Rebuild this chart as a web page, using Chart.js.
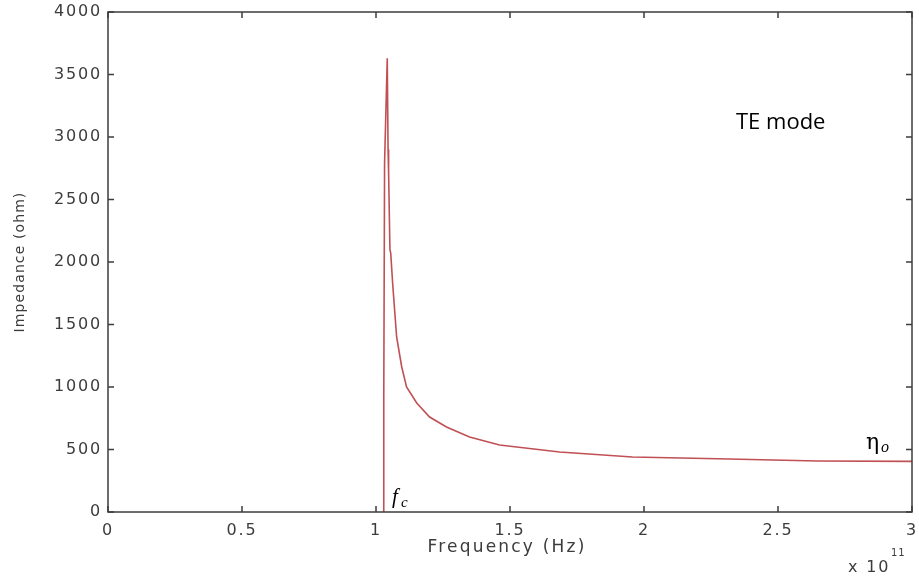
<!DOCTYPE html>
<html>
<head>
<meta charset="utf-8">
<script src="https://cdn.jsdelivr.net/npm/chart.js@4.4.0/dist/chart.umd.min.js"></script>
<style>
  html, body { margin: 0; padding: 0; background: #fff; }
  #wrap { width: 919px; height: 581px; }
</style>
</head>
<body>
<div id="wrap"><canvas id="impChart" width="919" height="581"></canvas></div>
<script>
// frequency in units of 1e11 Hz, impedance in ohm
let freq = [1.028, 1.029, 1.032, 1.042, 1.045, 1.047, 1.052, 1.055, 1.062, 1.077, 1.096, 1.114,
            1.152, 1.200, 1.263, 1.349, 1.461, 1.685, 1.957, 2.318, 2.646, 3.0];
let impedance = [0, 912, 2790, 3630, 2900, 2720, 2100, 2070, 1832, 1400, 1160, 1000,
                 872, 760, 680, 600, 536, 480, 440, 424, 408, 405];
let xTicks = [0, 0.5, 1, 1.5, 2, 2.5, 3];
let yTicks = [0, 500, 1000, 1500, 2000, 2500, 3000, 3500, 4000];

const axisColor = "#3c3c3c";
const tickFont = { family: "DejaVu Sans", size: 16 };

let points = freq.map((f, i) => ({ x: f, y: impedance[i] }));

// box + inward ticks + text labels, MATLAB style
const matlabFrame = {
  id: "matlabFrame",
  beforeDraw(chart) {
    const c = chart.ctx;
    c.fillStyle = "#fff";
    c.fillRect(0, 0, chart.width, chart.height);
    c.letterSpacing = "1.8px"; // matlab's wide axis font
  },
  afterDraw(chart) {
    const c = chart.ctx;
    const a = chart.chartArea;
    const xs = chart.scales.x, ys = chart.scales.y;
    c.save();
    c.strokeStyle = axisColor;
    c.lineWidth = 1.5;
    c.strokeRect(a.left, a.top, a.right - a.left, a.bottom - a.top);
    c.beginPath();
    xTicks.forEach(t => {
      const px = xs.getPixelForValue(t);
      c.moveTo(px, a.bottom); c.lineTo(px, a.bottom - 6);
      c.moveTo(px, a.top); c.lineTo(px, a.top + 6);
    });
    yTicks.forEach(t => {
      const py = ys.getPixelForValue(t);
      c.moveTo(a.left, py); c.lineTo(a.left + 6, py);
      c.moveTo(a.right, py); c.lineTo(a.right - 6, py);
    });
    c.stroke();

    // axis titles
    c.fillStyle = axisColor;
    c.textBaseline = "middle";
    c.textAlign = "center";
    c.letterSpacing = "2.2px";
    c.font = "17px DejaVu Sans";
    c.fillText("Frequency (Hz)", 507, 548);
    c.save();
    c.translate(20, 262);
    c.rotate(-Math.PI / 2);
    c.letterSpacing = "1.1px";
    c.font = "14px DejaVu Sans";
    c.fillText("Impedance (ohm)", 0, 0);
    c.restore();

    // exponent label
    c.textBaseline = "alphabetic";
    c.textAlign = "left";
    c.letterSpacing = "1.8px";
    c.font = "16px DejaVu Sans";
    c.fillText("x 10", 848, 572);
    c.letterSpacing = "1px";
    c.font = "10px DejaVu Sans";
    c.fillText("11", 891, 556);

    // annotations
    c.letterSpacing = "0px";
    c.fillStyle = "#000";
    c.font = "22px Open Sans, Noto Sans";
    c.fillText("TE mode", 736, 129);
    c.font = "italic 21px Liberation Serif, DejaVu Serif";
    c.fillText("f", 392, 503);
    c.font = "italic 15px Liberation Serif, DejaVu Serif";
    c.fillText("c", 401, 507);
    c.font = "22px DejaVu Serif, Liberation Serif";
    c.fillText("\u03b7", 866, 449);
    c.font = "italic 16px Liberation Serif, DejaVu Serif";
    c.fillText("o", 881, 452);
    c.restore();
  }
};

const ctx = document.getElementById("impChart").getContext("2d");
let chart = new Chart(ctx, {
  type: "line",
  data: {
    datasets: [{
      label: "Impedance",
      data: points,
      borderColor: "rgb(192, 80, 84)",
      borderWidth: 1.6,
      pointRadius: 0,
      tension: 0,
      fill: false
    }]
  },
  options: {
    responsive: false,
    animation: false,
    events: [],
    layout: { padding: { left: 9, top: 12, right: 7, bottom: 21 } },
    plugins: { legend: { display: false }, tooltip: { enabled: false } },
    scales: {
      x: {
        type: "linear",
        min: 0, max: 3,
        grid: { display: false, drawTicks: false },
        border: { display: false },
        afterBuildTicks: s => { s.ticks = xTicks.map(v => ({ value: v })); },
        afterFit: s => { s.height = 48; s.paddingLeft = 0; s.paddingRight = 0; },
        ticks: { color: axisColor, font: tickFont, padding: 9, maxRotation: 0, autoSkip: false,
                 callback: v => String(v) }
      },
      y: {
        min: 0, max: 4000,
        grid: { display: false, drawTicks: false },
        border: { display: false },
        afterBuildTicks: s => { s.ticks = yTicks.map(v => ({ value: v })); },
        afterFit: s => { s.width = 99; s.paddingTop = 0; s.paddingBottom = 0; },
        ticks: { color: axisColor, font: tickFont, padding: 6, autoSkip: false,
                 callback: v => String(v) }
      }
    }
  },
  plugins: [matlabFrame]
});
</script>
</body>
</html>
